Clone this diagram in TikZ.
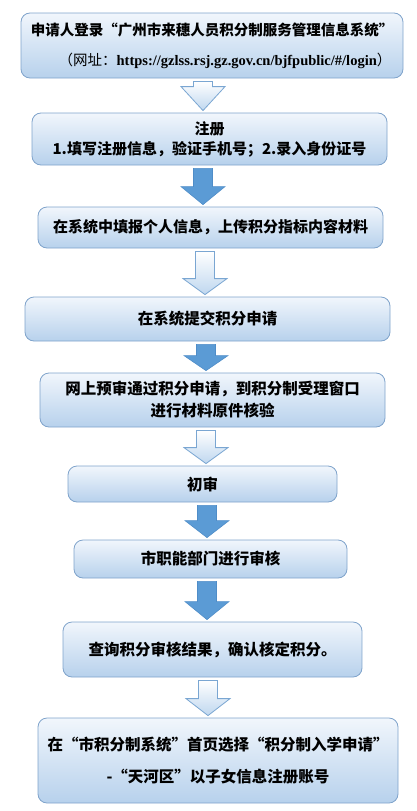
\documentclass[tikz,border=0pt]{standalone}
\usepackage{fontspec}
\setmainfont{Noto Sans CJK SC}
\newfontfamily\urlfont{Liberation Serif}
\usetikzlibrary{calc}

\definecolor{boxline}{HTML}{7FA3CB}
\definecolor{boxtop}{HTML}{F1F6FC}
\definecolor{boxbottom}{HTML}{B7D1EC}
\definecolor{lightbottom}{HTML}{BFD7EF}
\definecolor{lightline}{HTML}{7AA6D2}
\definecolor{darkblue}{HTML}{5B9BD5}
\definecolor{darkline}{HTML}{4F8DC8}

% block arrow: style, from, to, x, head length
\newcommand{\flowarrow}[5]{%
  \path[#1] let \p1=(#2.south), \p2=(#3.north) in
    (#4-9.5, \y1-3pt) -- (#4+9.5, \y1-3pt) -- (#4+9.5, \y2+2pt+#5pt)
    -- (#4+22, \y2+2pt+#5pt) -- (#4, \y2+2pt) -- (#4-22, \y2+2pt+#5pt)
    -- (#4-9.5, \y2+2pt+#5pt) -- cycle;}

\begin{document}
\begin{tikzpicture}[
    x=1pt, y=1pt,
    stepbox/.style={rectangle, rounded corners=9pt, draw=boxline, line width=0.8pt, top color=boxtop, bottom color=boxbottom, align=center, font=\fontsize{15.5}{22}\selectfont\bfseries},
    lightarrow/.style={draw=lightline, line width=0.8pt, top color=white, bottom color=lightbottom},
    darkarrow/.style={draw=darkline, line width=0.6pt, fill=darkblue},
]
\useasboundingbox (0,0) rectangle (416,-811);

% Steps
\node[stepbox, minimum width=382pt, minimum height=65pt] (login) at (212,-45.5) {{\fontsize{14.5}{30}\selectfont 申请人登录“广州市来穗人员积分制服务管理信息系统”}\\[8pt]
\hspace*{26pt}{\fontsize{14.5}{16}\selectfont\mdseries （网址：{\urlfont\bfseries https://gzlss.rsj.gz.gov.cn/bjfpublic/\#/login}）}};
\node[stepbox, minimum width=355pt, minimum height=52pt, font=\fontsize{15}{20}\selectfont\bfseries] (register) at (209.5,-139) {注册\\1.填写注册信息，验证手机号；2.录入身份证号};
\node[stepbox, minimum width=345pt, minimum height=41pt, font=\fontsize{15}{20}\selectfont\bfseries] (fillin) at (210.5,-227.5) {在系统中填报个人信息，上传积分指标内容材料};
\node[stepbox, minimum width=365pt, minimum height=44pt] (submit) at (207.5,-319) {在系统提交积分申请};
\node[stepbox, minimum width=345pt, minimum height=54pt] (verify) at (212.5,-400) {网上预审通过积分申请，到积分制受理窗口\\进行材料原件核验};
\node[stepbox, minimum width=269pt, minimum height=36pt] (firstreview) at (202.5,-484) {初审};
\node[stepbox, minimum width=273pt, minimum height=38pt] (cityreview) at (210.5,-559) {市职能部门进行审核};
\node[stepbox, minimum width=299pt, minimum height=55pt] (result) at (212.5,-649.5) {查询积分审核结果，确认核定积分。};
\node[stepbox, minimum width=360pt, minimum height=85pt] (enrol) at (218,-760.5) {在“市积分制系统”首页选择“积分制入学申请”\\[10pt]-“天河区”以子女信息注册账号};

% Arrows
\flowarrow{lightarrow}{login}{register}{203}{24}
\flowarrow{darkarrow}{register}{fillin}{203}{18}
\flowarrow{lightarrow}{fillin}{submit}{205}{16}
\flowarrow{darkarrow}{submit}{verify}{206}{15}
\flowarrow{lightarrow}{verify}{firstreview}{206}{16}
\flowarrow{darkarrow}{firstreview}{cityreview}{207}{17}
\flowarrow{darkarrow}{cityreview}{result}{207}{18}
\flowarrow{lightarrow}{result}{enrol}{208}{17}

\end{tikzpicture}
\end{document}
